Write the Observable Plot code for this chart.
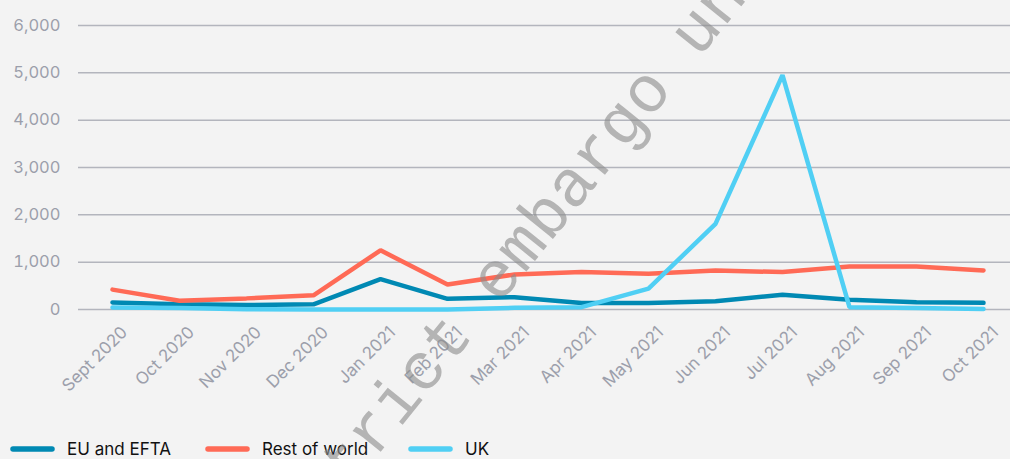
<!DOCTYPE html>
<html>
<head>
<meta charset="utf-8">
<script src="https://cdn.jsdelivr.net/npm/d3@7"></script>
<script src="https://cdn.jsdelivr.net/npm/@observablehq/plot@0.6"></script>
<style>
  html, body { margin: 0; padding: 0; background: #f3f3f3; }
  #wrap { position: relative; width: 1010px; height: 459px; overflow: hidden; background: #f3f3f3; font-family: Inter, "Noto Sans", sans-serif; }
  #chart { position: absolute; left: 0; top: 0; }
  #legend { position: absolute; left: 0; top: 437px; height: 23px; width: 1010px; }
  .item { position: absolute; top: 0; height: 23px; display: flex; align-items: center; font-size: 17px; color: #111; }
  .item svg { margin-right: 12px; }
  #watermark { position: absolute; left: 0; top: 0; white-space: nowrap; font-family: "Liberation Mono", "DejaVu Sans Mono", monospace; font-size: 66px; line-height: 66px; color: rgba(140,140,140,0.62); transform-origin: 0 0; pointer-events: none; }
</style>
</head>
<body>
<div id="wrap">
  <div id="chart"></div>
  <div id="legend"></div>
  <div id="watermark">strict embargo until</div>
</div>
<script>
const months = ["Sept 2020","Oct 2020","Nov 2020","Dec 2020","Jan 2021","Feb 2021","Mar 2021","Apr 2021","May 2021","Jun 2021","Jul 2021","Aug 2021","Sep 2021","Oct 2021"];
const seriesNames = ["EU and EFTA", "Rest of world", "UK"];
const seriesColors = ["#0089b3", "#ff6a56", "#50cff4"];
const euEfta = [150, 110, 95, 110, 640, 225, 260, 135, 135, 175, 310, 205, 155, 140];
const restOfWorld = [420, 185, 235, 300, 1250, 530, 740, 790, 755, 825, 790, 910, 910, 825];
const uk = [40, 30, 5, 0, 0, 0, 35, 50, 440, 1810, 4950, 50, 30, 10];
const yTicks = [0, 1000, 2000, 3000, 4000, 5000, 6000];

const seriesValues = [euEfta, restOfWorld, uk];
const data = [];
seriesNames.forEach((name, s) => {
  months.forEach((m, i) => data.push({month: m, value: seriesValues[s][i], series: name}));
});

const chart = Plot.plot({
  width: 1010,
  height: 436,
  marginLeft: 78,
  marginRight: 0,
  marginTop: 25,
  marginBottom: 127,
  style: {background: "transparent", fontFamily: "Inter, 'Noto Sans', sans-serif", fontSize: "15px", overflow: "visible"},
  x: {type: "point", domain: months, padding: 0, insetLeft: 33, insetRight: 27, label: null},
  y: {domain: [0, 6000], label: null},
  color: {domain: seriesNames, range: seriesColors},
  marks: [
    Plot.ruleY(yTicks, {stroke: "#b3b5bd", strokeWidth: 1.5}),
    Plot.axisY(yTicks, {tickSize: 0, tickPadding: 18, tickFormat: d3.format(","), fill: "#9c9fab", fontSize: 16.5, label: null}),
    Plot.axisX({tickSize: 0, tickPadding: 20, tickRotate: -45, dx: 12, fill: "#9c9fab", fontSize: 17, label: null}),
    Plot.line(data, {x: "month", y: "value", z: "series", stroke: "series", strokeWidth: 4.5, strokeLinejoin: "miter", strokeLinecap: "round"})
  ]
});
document.getElementById("chart").appendChild(chart);

const legend = document.getElementById("legend");
const positions = [10, 205, 408];
seriesNames.forEach((name, i) => {
  const item = document.createElement("div");
  item.className = "item";
  item.style.left = positions[i] + "px";
  item.innerHTML = `<svg width="45" height="8"><line x1="3" y1="4" x2="42" y2="4" stroke="${seriesColors[i]}" stroke-width="5.5" stroke-linecap="round"/></svg><span>${name}</span>`;
  legend.appendChild(item);
});

// watermark, rotated
const wm = document.getElementById("watermark");
wm.style.transform = "translate(286px, 489px) rotate(-51deg)";
</script>
</body>
</html>
